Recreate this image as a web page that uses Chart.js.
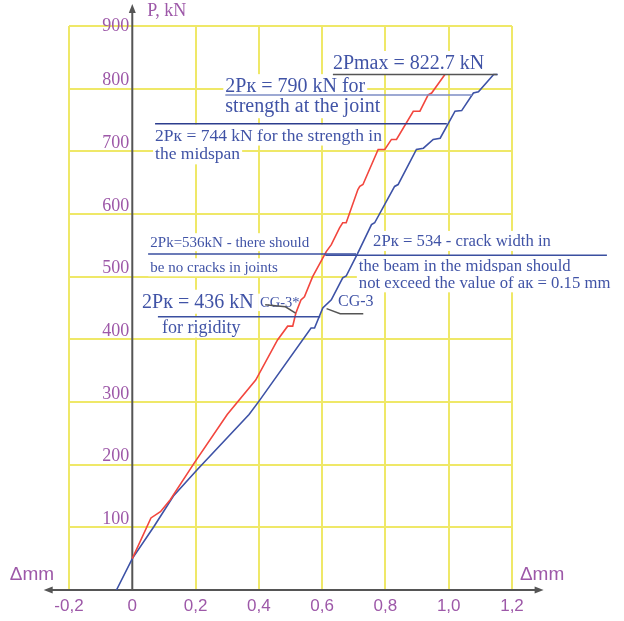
<!DOCTYPE html>
<html>
<head>
<meta charset="utf-8">
<script src="https://cdn.jsdelivr.net/npm/chart.js@4.4.1/dist/chart.umd.min.js"></script>
<style>
    html, body { margin: 0; padding: 0; background: #fff; }
    #wrap { width: 624px; height: 621px; }
</style>
</head>
<body>
<div id="wrap"><canvas id="chart" width="624" height="621"></canvas></div>
<script>
// ============================================================
//  Load - deflection curves, CG-3* and CG-3
// ============================================================

// CG-3* (red)
const cg3StarDefl = [0, 0.059, 0.089, 0.12, 0.195, 0.30, 0.39, 0.459, 0.491, 0.507, 0.517, 0.533, 0.544, 0.570,
    0.613, 0.629, 0.655, 0.665, 0.676, 0.713, 0.719, 0.729, 0.777, 0.798, 0.819, 0.835, 0.888, 0.909, 0.935, 0.946, 0.988];
const cg3StarLoad = [50, 115, 125, 144, 202, 280, 335, 399, 421, 421, 442, 463, 468, 500,
    540, 551, 578, 586, 586, 639, 644, 647, 703, 703, 719, 719, 764, 764, 790, 793, 822.7];

// CG-3 (blue)
const cg3Defl = [-0.05, 0, 0.068, 0.13, 0.205, 0.369, 0.40, 0.565, 0.576, 0.602, 0.629, 0.665, 0.676, 0.713,
    0.756, 0.766, 0.829, 0.84, 0.898, 0.92, 0.951, 0.973, 1.02, 1.041, 1.078, 1.094, 1.142, 1.155];
const cg3Load = [0, 50, 101, 150, 192, 280, 301, 418, 418, 450, 463, 498, 501, 538,
    583, 586, 644, 647, 703, 705, 719, 721, 764, 765, 793, 795, 822.7, 822.7];

const xTicks = [-0.2, 0, 0.2, 0.4, 0.6, 0.8, 1.0, 1.2];
const xTickLabels = ['-0,2', '0', '0,2', '0,4', '0,6', '0,8', '1,0', '1,2'];
const yTicks = [100, 200, 300, 400, 500, 600, 700, 800, 900];
const yTickLabels = ['100', '200', '300', '400', '500', '600', '700', '800', '900'];

const PURPLE = '#9d58a8';
const NOTE_BLUE = '#4053a6';
const SERIF = '"Liberation Serif", "Times New Roman", serif';
const SANS = '"Liberation Sans", Arial, sans-serif';

// notes: [text, x (mm), P at line centre (kN), font size]
const notes = [
    ['2Pmax = 822.7 kN', 0.634, 841, 20],
    ['2Pк = 790 kN for', 0.294, 804, 20],
    ['strength at the joint', 0.294, 772, 20],
    ['2Pк = 744 kN for the strength in', 0.072, 726, 17.5],
    ['the midspan', 0.072, 696, 17.5],
    ['2Pk=536kN - there should', 0.057, 555, 15],
    ['be no cracks in joints', 0.057, 515, 15],
    ['2Pк = 534 - crack width in', 0.761, 557, 16.7],
    ['the beam in the midspan should', 0.716, 517, 16.7],
    ['not exceed the value of aк = 0.15 mm', 0.716, 491, 16.7],
    ['2Pк = 436 kN', 0.031, 460, 20],
    ['CG-3*', 0.404, 459, 14.5],
    ['for rigidity', 0.094, 420, 18],
    ['CG-3', 0.65, 461, 16],
];

// leader lines: points in (mm, kN) + colour
const leaders = [
    [[[0.634, 822.7], [1.153, 822.7]], '#555555'],
    [[[0.294, 790], [1.074, 790]], '#7d8cc4'],
    [[[0.072, 744], [0.994, 744]], '#2c3d8e'],
    [[[0.05, 536], [0.707, 536]], '#3a4fa0'],
    [[[0.61, 534], [1.5, 534]], '#3a4fa0'],
    [[[0.081, 436], [0.594, 436]], '#3a4fa0'],
    [[[0.42, 455], [0.484, 452], [0.516, 442]], '#555555'],
    [[[0.614, 449], [0.657, 441], [0.73, 441]], '#555555'],
];

function toPoints(xs, ys) {
    return xs.map((x, i) => ({ x: x, y: ys[i] }));
}

function arrowHead(ctx, x, y, dir) {
    // dir: 'left' | 'right' | 'up'
    const len = 9, half = 3.5;
    ctx.beginPath();
    if (dir === 'right') { ctx.moveTo(x, y); ctx.lineTo(x - len, y - half); ctx.lineTo(x - len, y + half); }
    if (dir === 'left') { ctx.moveTo(x, y); ctx.lineTo(x + len, y - half); ctx.lineTo(x + len, y + half); }
    if (dir === 'up') { ctx.moveTo(x, y); ctx.lineTo(x - half, y + len); ctx.lineTo(x + half, y + len); }
    ctx.closePath();
    ctx.fill();
}

const annotationsPlugin = {
    id: 'drawingNotes',
    beforeDatasetsDraw(chart) {
        const ctx = chart.ctx;
        const sx = chart.scales.x, sy = chart.scales.y;
        ctx.save();

        // white boxes + note text
        ctx.textBaseline = 'middle';
        ctx.textAlign = 'left';
        notes.forEach(([text, x, y, size]) => {
            ctx.font = size + 'px ' + SERIF;
            const px = sx.getPixelForValue(x);
            const py = sy.getPixelForValue(y);
            const w = ctx.measureText(text).width;
            ctx.fillStyle = '#ffffff';
            ctx.fillRect(px - 2, py - size * 0.6, w + 4, size * 1.2);
            ctx.fillStyle = NOTE_BLUE;
            ctx.fillText(text, px, py + 1);
        });

        // axes
        const x0 = sx.getPixelForValue(0);
        const y0 = sy.getPixelForValue(0);
        const xl = sx.getPixelForValue(-0.28);
        const xr = sx.getPixelForValue(1.30);
        const yt = sy.getPixelForValue(935);
        ctx.strokeStyle = '#555555';
        ctx.fillStyle = '#555555';
        ctx.lineWidth = 2;
        ctx.beginPath();
        ctx.moveTo(xl + 4, y0); ctx.lineTo(xr - 4, y0);
        ctx.moveTo(x0, y0); ctx.lineTo(x0, yt + 4);
        ctx.stroke();
        arrowHead(ctx, xl, y0, 'left');
        arrowHead(ctx, xr, y0, 'right');
        arrowHead(ctx, x0, yt, 'up');

        // tick labels
        ctx.fillStyle = PURPLE;
        ctx.font = '17px ' + SANS;
        ctx.textAlign = 'center';
        ctx.textBaseline = 'middle';
        xTicks.forEach((v, i) => {
            ctx.fillText(xTickLabels[i], sx.getPixelForValue(v), y0 + 16);
        });
        ctx.font = '18px ' + SERIF;
        ctx.textAlign = 'right';
        yTicks.forEach((v, i) => {
            const top = v === sy.max;
            ctx.textBaseline = top ? 'middle' : 'bottom';
            ctx.fillText(yTickLabels[i], x0 - 3, sy.getPixelForValue(v) + (top ? 0 : 1));
        });

        // axis titles
        ctx.textAlign = 'left';
        ctx.textBaseline = 'middle';
        ctx.font = '18px ' + SERIF;
        ctx.fillText('P, kN', x0 + 15, yt + 7);
        ctx.font = '19px ' + SANS;
        ctx.fillText('Δmm', sx.getPixelForValue(-0.387), y0 - 15);
        ctx.fillText('Δmm', sx.getPixelForValue(1.225), y0 - 15);

        ctx.restore();
    },
    afterDatasetsDraw(chart) {
        const ctx = chart.ctx;
        const sx = chart.scales.x, sy = chart.scales.y;
        ctx.save();
        ctx.lineWidth = 1.5;
        leaders.forEach(([pts, color]) => {
            ctx.strokeStyle = color;
            ctx.beginPath();
            pts.forEach(([x, y], i) => {
                const px = sx.getPixelForValue(x), py = sy.getPixelForValue(y);
                if (i === 0) ctx.moveTo(px, py); else ctx.lineTo(px, py);
            });
            ctx.stroke();
        });
        ctx.restore();
    }
};

new Chart(document.getElementById('chart'), {
    type: 'scatter',
    data: {
        datasets: [
            {
                label: 'CG-3*',
                data: toPoints(cg3StarDefl, cg3StarLoad),
                showLine: true,
                borderColor: '#f2463e',
                borderWidth: 1.6,
                pointRadius: 0,
                tension: 0,
            },
            {
                label: 'CG-3',
                data: toPoints(cg3Defl, cg3Load),
                showLine: true,
                borderColor: '#3d52a6',
                borderWidth: 1.6,
                pointRadius: 0,
                tension: 0,
            }
        ]
    },
    options: {
        responsive: false,
        animation: false,
        layout: { padding: { left: 69, right: 112, top: 26, bottom: 31 } },
        plugins: {
            legend: { display: false },
            tooltip: { enabled: false }
        },
        scales: {
            x: {
                type: 'linear',
                min: -0.2,
                max: 1.2,
                afterBuildTicks: (scale) => { scale.ticks = xTicks.map(v => ({ value: v })); },
                ticks: { display: false },
                border: { display: false },
                grid: {
                    drawTicks: false,
                    lineWidth: 2,
                    color: (c) => (c.tick && c.tick.value === 0) ? 'rgba(0,0,0,0)' : '#efe868'
                }
            },
            y: {
                type: 'linear',
                min: 0,
                max: 900,
                afterBuildTicks: (scale) => { scale.ticks = [0].concat(yTicks).map(v => ({ value: v })); },
                ticks: { display: false },
                border: { display: false },
                grid: { drawTicks: false, lineWidth: 2, color: '#efe868' }
            }
        }
    },
    plugins: [annotationsPlugin]
});
</script>
</body>
</html>
